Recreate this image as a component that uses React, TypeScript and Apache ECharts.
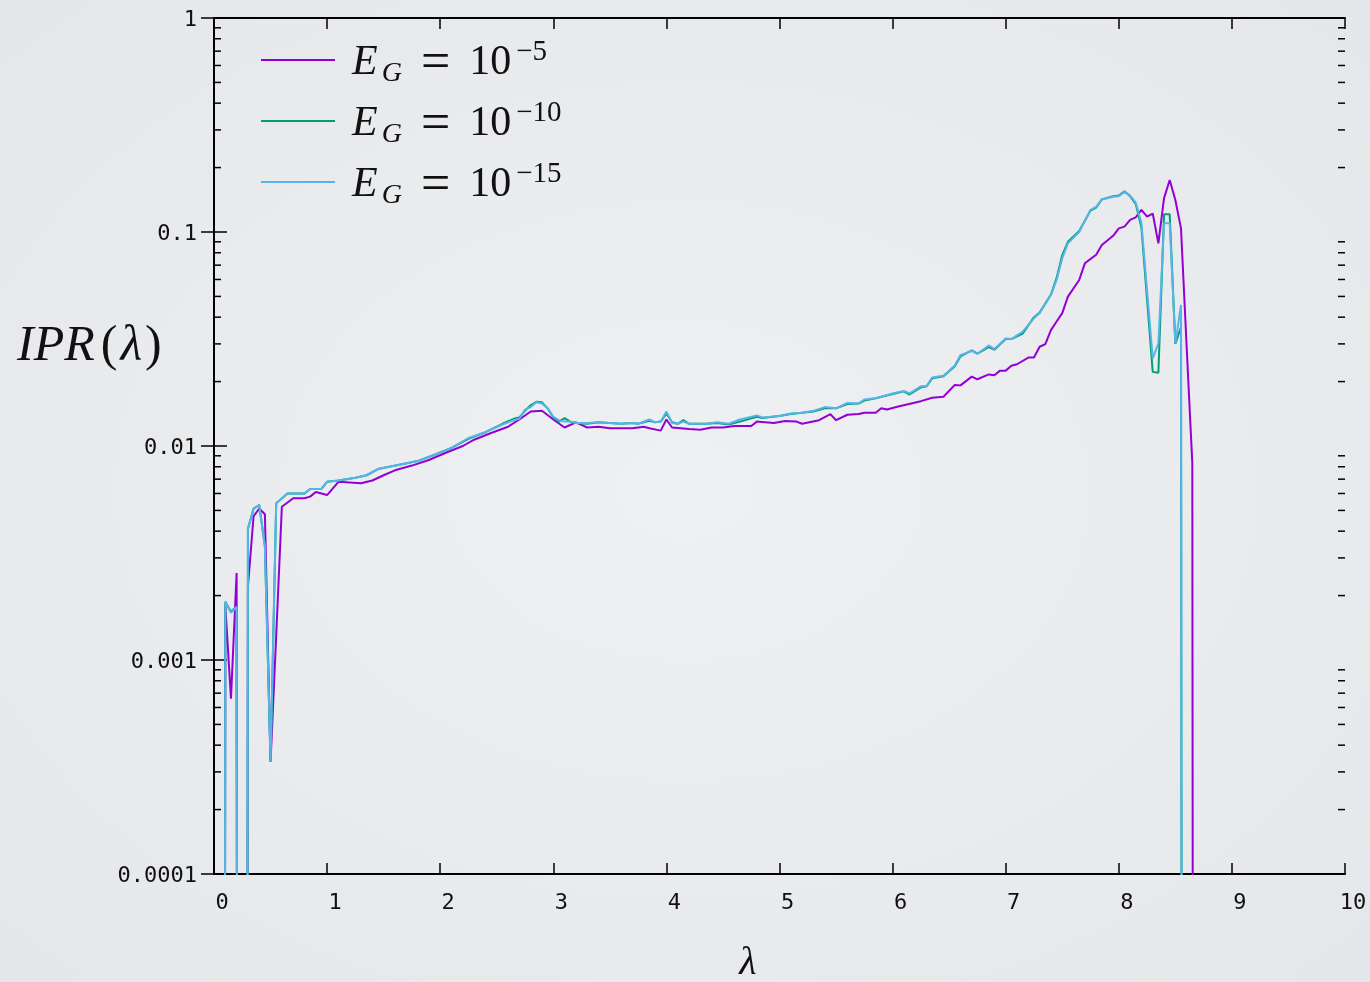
import React, { useEffect, useRef } from "react";
import * as echarts from "echarts";

// IPR = 0 points: far below the log axis, clipped by the grid
const ZERO = 1e-30;

// lambda grid shared by the E_G = 1e-10 and E_G = 1e-15 curves
const lambdaTeal = [
  0.0, 0.05, 0.1, 0.15, 0.2, 0.25, 0.3, 0.35, 0.4, 0.45, 0.5, 0.55, 0.65, 0.8, 0.85, 0.95,
  1.0, 1.1, 1.25, 1.35, 1.45, 1.55, 1.65, 1.8, 1.95, 2.1, 2.25, 2.4, 2.55, 2.65, 2.7, 2.75,
  2.8, 2.85, 2.9, 2.95, 3.0, 3.05, 3.1, 3.15, 3.2, 3.3, 3.4, 3.5, 3.6, 3.7, 3.75, 3.85,
  3.9, 3.95, 4.0, 4.05, 4.1, 4.15, 4.2, 4.35, 4.45, 4.55, 4.65, 4.8, 4.85, 5.0, 5.1, 5.2,
  5.3, 5.4, 5.5, 5.6, 5.7, 5.75, 5.85, 6.0, 6.1, 6.15, 6.25, 6.3, 6.35, 6.45, 6.55, 6.6,
  6.7, 6.75, 6.85, 6.9, 7.0, 7.05, 7.15, 7.25, 7.3, 7.4, 7.45, 7.5, 7.55, 7.65, 7.75, 7.8,
  7.85, 7.95, 8.0, 8.05, 8.1, 8.15, 8.2, 8.3, 8.35, 8.4, 8.45, 8.5, 8.55, 8.6,
];

// E_G = 1e-15 (cyan)
const iprCyan = [
  ZERO, ZERO, 0.00187, 0.00166, 0.00177, ZERO, 0.0041, 0.0051, 0.0053, 0.0034, 0.000335, 0.0054, 0.006, 0.006, 0.0063, 0.0063,
  0.0068, 0.0069, 0.0071, 0.0073, 0.0078, 0.008, 0.0082, 0.0085, 0.0091, 0.0098, 0.0109, 0.0116, 0.0126, 0.0132, 0.0134, 0.0148,
  0.0152, 0.016, 0.0158, 0.015, 0.0137, 0.0132, 0.013, 0.013, 0.0128, 0.0128, 0.0129, 0.0128, 0.0127, 0.0128, 0.0127, 0.0133,
  0.0129, 0.013, 0.0145, 0.0128, 0.0127, 0.013, 0.0127, 0.0127, 0.0129, 0.0127, 0.0133, 0.0139, 0.0136, 0.0138, 0.0142, 0.0143,
  0.0146, 0.0152, 0.015, 0.0159, 0.0158, 0.0165, 0.0167, 0.0176, 0.0181, 0.0176, 0.019, 0.019, 0.0209, 0.0213, 0.0238, 0.0266,
  0.0278, 0.027, 0.0295, 0.0284, 0.0318, 0.0316, 0.0342, 0.0395, 0.0418, 0.0508, 0.0597, 0.0754, 0.0885, 0.1, 0.127, 0.131,
  0.142, 0.146, 0.147, 0.154, 0.148, 0.137, 0.11, 0.0257, 0.0302, 0.11, 0.11, 0.0302, 0.0456, ZERO,
];

// E_G = 1e-10 (green)
const iprGreen = [
  ZERO, ZERO, 0.00187, 0.00168, 0.00178, ZERO, 0.0041, 0.0051, 0.0053, 0.0034, 0.000335, 0.0054, 0.006, 0.006, 0.0063, 0.0063,
  0.0068, 0.0069, 0.0071, 0.0073, 0.0078, 0.008, 0.0082, 0.0085, 0.0091, 0.0098, 0.0108, 0.0116, 0.0127, 0.0134, 0.0136, 0.0146,
  0.0155, 0.0161, 0.016, 0.015, 0.0136, 0.013, 0.0135, 0.013, 0.0128, 0.0127, 0.0129, 0.0128, 0.0127, 0.0128, 0.0127, 0.0131,
  0.0129, 0.013, 0.0142, 0.0129, 0.0127, 0.0132, 0.0127, 0.0127, 0.0128, 0.0126, 0.013, 0.0137, 0.0135, 0.0138, 0.0141, 0.0143,
  0.0145, 0.015, 0.015, 0.0157, 0.0158, 0.0163, 0.0167, 0.0175, 0.018, 0.0174, 0.0188, 0.019, 0.0207, 0.0212, 0.0236, 0.0262,
  0.028, 0.027, 0.029, 0.0282, 0.0316, 0.0316, 0.0335, 0.04, 0.042, 0.051, 0.061, 0.078, 0.09, 0.101, 0.126, 0.13,
  0.142, 0.147, 0.148, 0.155, 0.147, 0.135, 0.105, 0.0222, 0.022, 0.121, 0.121, 0.03, 0.036, ZERO,
];

// lambda grid of the E_G = 1e-5 curve
const lambdaViolet = [
  0.0, 0.05, 0.1, 0.15, 0.2, 0.25, 0.3, 0.35, 0.4, 0.45, 0.5, 0.55, 0.6, 0.7, 0.8, 0.85,
  0.9, 1.0, 1.1, 1.3, 1.4, 1.5, 1.6, 1.75, 1.9, 2.05, 2.2, 2.3, 2.45, 2.6, 2.7, 2.8,
  2.9, 3.0, 3.1, 3.2, 3.3, 3.4, 3.5, 3.7, 3.8, 3.85, 3.95, 4.0, 4.05, 4.2, 4.3, 4.4,
  4.5, 4.6, 4.75, 4.8, 4.95, 5.05, 5.15, 5.2, 5.35, 5.45, 5.5, 5.6, 5.7, 5.75, 5.85, 5.9,
  5.95, 6.05, 6.25, 6.35, 6.45, 6.55, 6.6, 6.7, 6.75, 6.85, 6.9, 6.95, 7.0, 7.05, 7.1, 7.2,
  7.25, 7.3, 7.35, 7.4, 7.45, 7.5, 7.55, 7.65, 7.7, 7.8, 7.85, 7.95, 8.0, 8.05, 8.1, 8.15,
  8.2, 8.25, 8.3, 8.35, 8.4, 8.45, 8.5, 8.55, 8.6, 8.65, 8.7,
];

// E_G = 1e-5 (violet)
const iprViolet = [
  ZERO, ZERO, 0.0018, 0.00066, 0.00255, ZERO, 0.0022, 0.0047, 0.0051, 0.0048, 0.000335, 0.0013, 0.0052, 0.0057, 0.0057, 0.0058,
  0.0061, 0.0059, 0.0068, 0.0067, 0.0069, 0.0073, 0.0077, 0.0081, 0.0086, 0.0093, 0.01, 0.0107, 0.0115, 0.0123, 0.0133, 0.0145,
  0.0146, 0.0133, 0.0122, 0.0129, 0.0122, 0.0123, 0.0121, 0.0121, 0.0123, 0.0121, 0.0118, 0.0133, 0.0122, 0.012, 0.0119, 0.0122,
  0.0122, 0.0124, 0.0124, 0.013, 0.0128, 0.0131, 0.013, 0.0127, 0.0132, 0.0141, 0.0132, 0.014, 0.0141, 0.0143, 0.0143, 0.015,
  0.0148, 0.0153, 0.0162, 0.0168, 0.017, 0.0193, 0.0192, 0.0211, 0.0205, 0.0216, 0.0214, 0.0225, 0.0225, 0.0237, 0.0241, 0.0259,
  0.0259, 0.0291, 0.0299, 0.0348, 0.0382, 0.0418, 0.0499, 0.0597, 0.0714, 0.0783, 0.0869, 0.096, 0.104, 0.106, 0.114, 0.117,
  0.127, 0.118, 0.122, 0.0885, 0.144, 0.175, 0.141, 0.104, 0.029, 0.0083, ZERO,
];

const seriesNames = ["E_G = 10^-5", "E_G = 10^-10", "E_G = 10^-15"];
const legendExponents = ["\u22125", "\u221210", "\u221215"];
const seriesColors = ["#9400d3", "#009e73", "#56b4e9"];

const xMin = 0;
const xMax = 10;
const xStep = 1;
const yMin = 0.0001;
const yMax = 1;
const yTickLabels = ["0.0001", "0.001", "0.01", "0.1", "1"];
const minorTickValues = [
  0.0002, 0.0003, 0.0004, 0.0005, 0.0006, 0.0007, 0.0008, 0.0009,
  0.002, 0.003, 0.004, 0.005, 0.006, 0.007, 0.008, 0.009,
  0.02, 0.03, 0.04, 0.05, 0.06, 0.07, 0.08, 0.09,
  0.2, 0.3, 0.4, 0.5, 0.6, 0.7, 0.8, 0.9,
];

const pairs = (xs: number[], ys: number[]) => xs.map((x, i) => [x, ys[i]]);

const MONO = "'DejaVu Sans Mono', 'Liberation Mono', monospace";
const SERIF = "'Liberation Serif', 'DejaVu Serif', serif";

export default function App() {
  const ref = useRef<HTMLDivElement>(null);

  useEffect(() => {
    if (!ref.current) return;
    const chart = echarts.init(ref.current, null, { renderer: "svg" });

    const axisLine = { show: true, lineStyle: { color: "#000", width: 2 } };
    const majorTick = (len: number) => ({ show: true, inside: true, length: len, lineStyle: { color: "#000", width: 1.5 } });

    const xBase = {
      type: "value" as const,
      min: xMin,
      max: xMax,
      interval: xStep,
      axisLine,
      splitLine: { show: false },
    };
    const yBase = {
      type: "log" as const,
      logBase: 10,
      min: yMin,
      max: yMax,
      splitNumber: 4,
      axisLine,
      splitLine: { show: false },
      minorTick: { show: false },
    };

    const dataSets = [pairs(lambdaViolet, iprViolet), pairs(lambdaTeal, iprGreen), pairs(lambdaTeal, iprCyan)];

    const option: any = {
      animation: false,
      backgroundColor: {
        type: "radial",
        x: 0.5,
        y: 0.5,
        r: 0.75,
        colorStops: [
          { offset: 0, color: "#eef0f2" },
          { offset: 1, color: "#e4e6e9" },
        ],
      },
      grid: { left: 214, top: 18, right: 25, bottom: 108, containLabel: false },
      xAxis: [
        {
          ...xBase,
          position: "bottom",
          axisTick: majorTick(11),
          axisLabel: {
            show: true,
            margin: 16,
            fontFamily: MONO,
            fontSize: 22,
            color: "#111",
            padding: [0, 0, 0, 16],
          },
        },
        {
          ...xBase,
          position: "top",
          axisTick: majorTick(11),
          axisLabel: { show: false },
        },
      ],
      yAxis: [
        {
          ...yBase,
          position: "left",
          axisTick: majorTick(13),
          axisLabel: {
            show: true,
            margin: 17,
            fontFamily: MONO,
            fontSize: 22,
            color: "#111",
            formatter: (v: number) => yTickLabels[Math.round(Math.log10(v)) + 4] ?? "",
          },
        },
        {
          ...yBase,
          position: "right",
          axisTick: majorTick(13),
          axisLabel: { show: false },
        },
      ],
      legend: {
        data: seriesNames,
        orient: "vertical",
        left: 256,
        top: 29,
        icon: "rect",
        itemWidth: 74,
        itemHeight: 2,
        itemGap: 9,
        selectedMode: false,
        formatter: (name: string) => {
          const i = seriesNames.indexOf(name);
          return `{sp|}{e|E}{g|G}{eq|=}{ten|10}{sup|${legendExponents[i]}}`;
        },
        textStyle: {
          color: "#111",
          rich: {
            sp: { width: 12 },
            e: { fontFamily: SERIF, fontStyle: "italic", fontSize: 42, lineHeight: 50, color: "#111" },
            g: { fontFamily: SERIF, fontStyle: "italic", fontSize: 28, lineHeight: 28, verticalAlign: "bottom", color: "#111", padding: [0, 19, 0, 4] },
            eq: { fontFamily: SERIF, fontSize: 52, lineHeight: 50, color: "#111", padding: [0, 19, 0, 0] },
            ten: { fontFamily: SERIF, fontSize: 42, lineHeight: 50, color: "#111" },
            sup: { fontFamily: SERIF, fontSize: 29, lineHeight: 31, verticalAlign: "top", color: "#111", padding: [0, 0, 0, 5] },
          },
        },
      },
      graphic: [
        {
          type: "text",
          x: 17,
          y: 343,
          silent: true,
          style: {
            text: "{i|IPR}{n|(}{l|\u03bb}{n|)}",
            textAlign: "left",
            textVerticalAlign: "middle",
            rich: {
              i: { fontFamily: SERIF, fontStyle: "italic", fontSize: 50, fill: "#111", padding: [0, 6, 0, 0] },
              l: { fontFamily: SERIF, fontStyle: "italic", fontSize: 50, fill: "#111", padding: [0, 3, 0, 3] },
              n: { fontFamily: SERIF, fontSize: 50, fill: "#111" },
            },
          },
        },
        {
          type: "text",
          x: 748,
          y: 960,
          silent: true,
          style: {
            text: "\u03bb",
            fontFamily: SERIF,
            fontStyle: "italic",
            fontSize: 40,
            lineHeight: 36,
            fill: "#111",
            textAlign: "center",
            textVerticalAlign: "middle",
          },
        },
      ],
      series: [
        ...dataSets.map((d, i) => ({
          type: "line",
          name: seriesNames[i],
          data: d,
          xAxisIndex: 0,
          yAxisIndex: 0,
          symbol: "none",
          showSymbol: false,
          clip: true,
          color: seriesColors[i],
          lineStyle: { color: seriesColors[i], width: 2 },
          z: 2 + i,
        })),
        {
          type: "custom",
          name: "minorTicks",
          xAxisIndex: 0,
          yAxisIndex: 0,
          silent: true,
          clip: false,
          data: minorTickValues.map((v) => [xMin, v]),
          renderItem: (_params: any, api: any) => {
            const v = api.value(1);
            const pL = api.coord([xMin, v]);
            const pR = api.coord([xMax, v]);
            const st = { stroke: "#000", lineWidth: 1.5 };
            return {
              type: "group",
              children: [
                { type: "line", shape: { x1: pL[0], y1: pL[1], x2: pL[0] + 7, y2: pL[1] }, style: st },
                { type: "line", shape: { x1: pR[0] - 7, y1: pR[1], x2: pR[0], y2: pR[1] }, style: st },
              ],
            };
          },
          z: 10,
        },
      ],
    };

    chart.setOption(option);
    return () => chart.dispose();
  }, []);

  return (
    <div
      ref={ref}
      style={{ position: "fixed", left: 0, top: 0, width: 1370, height: 982 }}
    />
  );
}
